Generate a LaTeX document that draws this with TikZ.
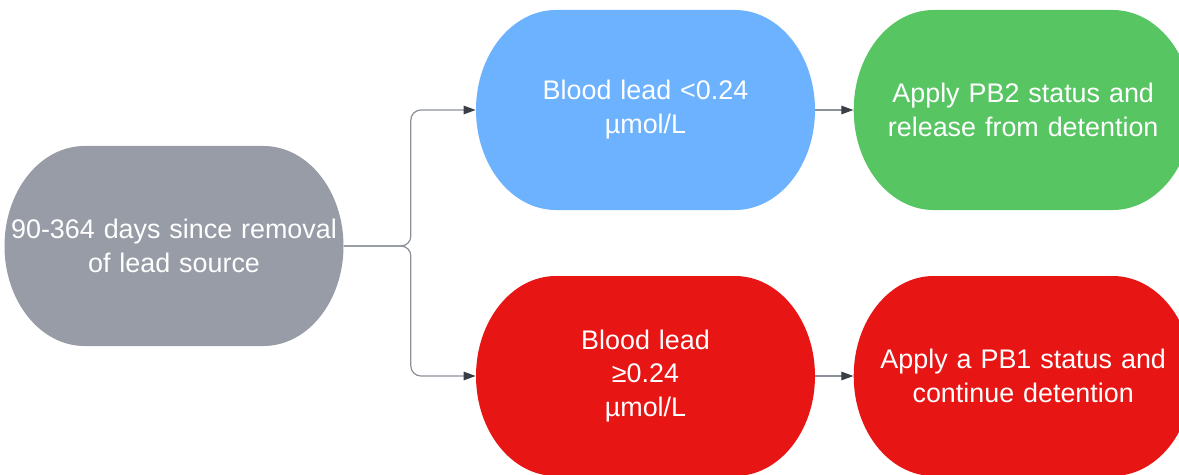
\documentclass[tikz,border=0pt]{standalone}
\usepackage{fontspec}
\setmainfont{Liberation Sans}
\usetikzlibrary{positioning,calc,arrows.meta}
\definecolor{Slate}{HTML}{979CA6}
\definecolor{Sky}{HTML}{6CB2FF}
\definecolor{Leaf}{HTML}{58C563}
\definecolor{Alarm}{HTML}{E81515}
\definecolor{Wire}{HTML}{8C9199}
\definecolor{Tip}{HTML}{3A3F47}
\tikzset{
  pill/.style={fill=white,minimum width=6.78cm,minimum height=4cm,inner sep=0pt,
    align=center,text width=6.74cm,font=\fontsize{15.3}{19.3}\selectfont,text=white,
    path picture={
      \fill[#1] ([xshift=1.6cm]path picture bounding box.north west)
        -- ([xshift=-1.6cm]path picture bounding box.north east)
        arc[start angle=90,end angle=-90,x radius=1.6cm,y radius=2cm]
        -- ([xshift=1.6cm]path picture bounding box.south west)
        arc[start angle=270,end angle=90,x radius=1.6cm,y radius=2cm] -- cycle;}},
  flow arrow/.style={-{Triangle[length=0.24cm,width=0.17cm,color=Tip]},line width=.7pt,
    draw=Wire,rounded corners=.2cm}
}
\begin{document}
\begin{tikzpicture}[node distance=.76cm]
  \useasboundingbox (0,0) rectangle (23.58,-9.5);
  \node[pill=Slate] (removal) at (3.48,-4.92) {90-364 days since removal\\of lead source};
  \node[pill=Sky] (low) at (12.91,-2.2) {Blood lead <0.24\\µmol/L};
  \node[pill=Leaf,right=of low] (release) {Apply PB2 status and\\release from detention};
  \node[pill=Alarm] (high) at (12.91,-7.52) {Blood lead\\≥0.24\\µmol/L};
  \node[pill=Alarm,right=of high] (detain) {Apply a PB1 status and\\continue detention};
  \coordinate (split) at ($(removal.east)+(1.34,0)$);
  \draw[flow arrow] (removal.east) -- (split) |- (low.west);
  \draw[flow arrow] (removal.east) -- (split) |- (high.west);
  \draw[flow arrow] (low) -- (release);
  \draw[flow arrow] (high) -- (detain);
\end{tikzpicture}
\end{document}
